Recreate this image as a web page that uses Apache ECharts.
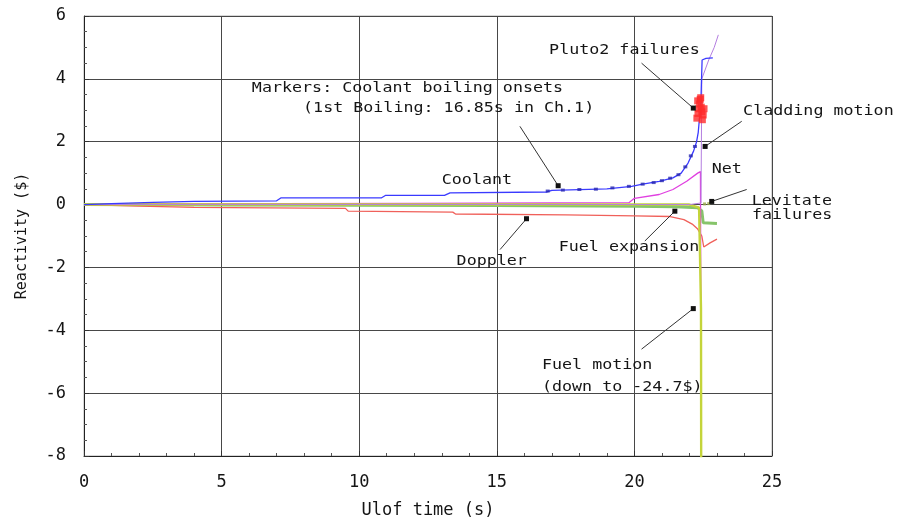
<!DOCTYPE html>
<html>
<head>
<meta charset="utf-8">
<style>
  html, body { margin: 0; padding: 0; background: #ffffff; }
  #chart { width: 903px; height: 524px; }
</style>
<script src="https://cdn.jsdelivr.net/npm/echarts@6/dist/echarts.min.js"></script>
</head>
<body>
<div id="chart"></div>
<script>
// ---- reactivity components vs. ULOF transient time (s), values in $ ----
const coolantTime  = [0, 1, 2.5, 4, 7.0, 7.15, 10.8, 10.95, 13.1, 13.3, 16.8, 17.0, 19.0, 19.9, 20.3, 20.9, 21.4, 21.7, 21.95, 22.15, 22.26, 22.32, 22.36, 22.4, 22.42, 22.46, 22.6, 22.85];
const coolantValue = [0, 0.03, 0.07, 0.1, 0.12, 0.21, 0.21, 0.29, 0.29, 0.37, 0.40, 0.45, 0.50, 0.58, 0.65, 0.74, 0.85, 1.0, 1.32, 1.7, 2.0, 2.3, 2.7, 3.0, 3.4, 4.6, 4.65, 4.67];

const dopplerTime  = [0, 2, 4, 9.5, 9.6, 13.4, 13.5, 17.5, 20.0, 21.3, 21.8, 22.1, 22.3, 22.45, 22.52, 22.75, 23.0];
const dopplerValue = [0, -0.05, -0.09, -0.12, -0.21, -0.24, -0.30, -0.33, -0.36, -0.38, -0.48, -0.62, -0.78, -1.0, -1.35, -1.22, -1.1];

const fuelExpTime  = [0, 5, 10, 15, 20, 21.5, 22.3, 22.45, 22.5, 23.0];
const fuelExpValue = [0, -0.01, -0.02, -0.03, -0.05, -0.07, -0.1, -0.2, -0.58, -0.6];

const netTime  = [0, 3, 7, 12, 17, 19.8, 20.0, 20.9, 21.4, 21.9, 22.3, 22.4, 22.47, 22.5];
const netValue = [0, 0.02, 0.03, 0.04, 0.05, 0.06, 0.2, 0.32, 0.48, 0.74, 1.0, 1.05, -22.0, -20.0];

const claddingTime  = [0, 22.0, 22.42, 22.45, 22.7, 22.9, 23.05];
const claddingValue = [0, 0, 0.05, 4.0, 4.6, 5.0, 5.4];

const fuelMotionTime  = [0, 22.0, 22.35, 22.42, 22.45];
const fuelMotionValue = [0, 0, -0.1, -3.3, -24.7];

// coolant boiling onset markers (placed on the coolant curve)
const boilingTime  = [16.85, 17.4, 18.0, 18.6, 19.2, 19.8, 20.3, 20.7, 21.0, 21.3, 21.6, 21.85, 22.05, 22.2];
const boilingValue = [0.43, 0.46, 0.48, 0.49, 0.53, 0.58, 0.65, 0.70, 0.76, 0.84, 0.95, 1.2, 1.55, 1.85];

// Pluto2 failure events
const pluto2Time  = [22.27, 22.31, 22.34, 22.37, 22.39, 22.41, 22.43, 22.45, 22.5, 22.53, 22.3, 22.47];
const pluto2Value = [2.75, 2.9, 3.05, 3.2, 3.35, 3.4, 3.1, 2.95, 2.85, 3.05, 3.3, 2.7];

// levitate failure events
const levitateTime  = [22.55, 22.7];
const levitateValue = [0.02, 0.03];

// axis ticks
const xTicks = [0, 5, 10, 15, 20, 25];
const yTicks = [-8, -6, -4, -2, 0, 2, 4, 6];

// text labels: [text, time, value]
const notes = [
  ['Pluto2 failures', 16.9, 4.92],
  ['Markers: Coolant boiling onsets', 6.10, 3.71],
  ['(1st Boiling: 16.85s in Ch.1)', 7.96, 3.08],
  ['Coolant', 13.0, 0.79],
  ['Doppler', 13.54, -1.80],
  ['Fuel expansion', 17.25, -1.37],
  ['Net', 22.81, 1.11],
  ['Levitate', 24.26, 0.10],
  ['failures', 24.27, -0.34],
  ['Cladding motion', 23.95, 2.98],
  ['Fuel motion', 16.64, -5.10],
  ['(down to -24.7$)', 16.64, -5.80]
];

// leader lines: [fromTime, fromValue, toTime, toValue]
const leaders = [
  [20.26, 4.50, 22.14, 3.07],
  [15.84, 2.49, 17.23, 0.60],
  [15.12, -1.43, 16.08, -0.45],
  [20.38, -1.16, 21.47, -0.21],
  [24.08, 0.48, 22.81, 0.10],
  [23.90, 2.65, 22.57, 1.85],
  [20.26, -4.60, 22.14, -3.31]
];

const zip = (t, v) => t.map((x, i) => [x, v[i]]);
const textFont = 'DejaVu Sans Mono';
const textColor = '#151515';

function curve(name, t, v, color, width, z) {
  return {
    name, type: 'line', data: zip(t, v), showSymbol: false, symbol: 'none',
    lineStyle: { color, width }, clip: true, z: z, animation: false
  };
}

const series = [
  curve('Fuel expansion', fuelExpTime, fuelExpValue, '#86c46a', 3, 3),
  curve('Doppler', dopplerTime, dopplerValue, '#f0605a', 1.3, 4),
  curve('Net', netTime, netValue, '#e040e0', 1.3, 5),
  curve('Fuel motion', fuelMotionTime, fuelMotionValue, '#c4d43a', 2.4, 6),
  curve('Cladding motion', claddingTime, claddingValue, '#b47ee0', 1, 6),
  curve('Coolant', coolantTime, coolantValue, '#3a3aff', 1.3, 7),
  {
    name: 'Boiling onsets', type: 'scatter', data: zip(boilingTime, boilingValue),
    symbol: 'rect', symbolSize: [4, 3], itemStyle: { color: '#2828b0' }, z: 8, animation: false
  },
  {
    name: 'Pluto2 failures', type: 'scatter', data: zip(pluto2Time, pluto2Value),
    symbol: 'rect', symbolSize: 7, itemStyle: { color: '#ff2a2a' }, z: 9, animation: false
  },
  {
    name: 'Levitate failures', type: 'scatter', data: zip(levitateTime, levitateValue),
    symbol: 'rect', symbolSize: 3, itemStyle: { color: '#9aa84a' }, z: 8, animation: false
  }
];

leaders.forEach((l, i) => {
  series.push({
    name: 'leader' + i, type: 'line', z: 10, animation: false, clip: false,
    lineStyle: { color: '#333', width: 1 },
    showSymbol: true,
    data: [
      { value: [l[0], l[1]], symbol: 'none' },
      { value: [l[2], l[3]], symbol: 'rect', symbolSize: 5, itemStyle: { color: '#111' } }
    ]
  });
});

const chart = echarts.init(document.getElementById('chart'), null, { renderer: 'canvas' });
chart.setOption({
  animation: false,
  backgroundColor: '#ffffff',
  grid: {
    left: 84, right: 131, top: 16, bottom: 67,
    show: true, borderColor: '#b0b0b0', borderWidth: 1, backgroundColor: '#ffffff'
  },
  xAxis: {
    type: 'value', min: xTicks[0], max: xTicks[xTicks.length - 1], interval: 5,
    name: 'Ulof time (s)', nameLocation: 'middle', nameGap: 46,
    nameTextStyle: { fontFamily: textFont, fontSize: 17, color: textColor },
    axisLine: { show: true, onZero: false, lineStyle: { color: '#222', width: 1 } },
    axisTick: { show: true, inside: true, length: 5, lineStyle: { color: '#333' } },
    minorTick: { show: true, splitNumber: 5, length: 3, lineStyle: { color: '#555' } },
    axisLabel: { margin: 18, fontFamily: textFont, fontSize: 17, color: textColor },
    splitLine: { show: true, lineStyle: { color: '#474747', width: 1 } }
  },
  yAxis: {
    type: 'value', min: yTicks[0], max: yTicks[yTicks.length - 1], interval: 2,
    name: 'Reactivity ($)', nameLocation: 'middle', nameGap: 54, nameRotate: 90,
    nameTextStyle: { fontFamily: textFont, fontSize: 15, color: textColor },
    axisLine: { show: true, onZero: false, lineStyle: { color: '#222', width: 1 } },
    axisTick: { show: true, inside: true, length: 5, lineStyle: { color: '#333' } },
    minorTick: { show: true, splitNumber: 4, length: 3, lineStyle: { color: '#555' } },
    axisLabel: { margin: 18, fontFamily: textFont, fontSize: 17, color: textColor },
    splitLine: { show: true, lineStyle: { color: '#474747', width: 1 } }
  },
  series
});

// annotation text, anchored in data coordinates and drawn with a wide face
const noteGraphics = notes.map(n => {
  const p = chart.convertToPixel({ gridIndex: 0 }, [n[1], n[2]]);
  return {
    type: 'text', x: p[0], y: p[1], scaleX: 1.15, scaleY: 1, z: 100, silent: true,
    style: {
      text: n[0], font: '14.5px "' + textFont + '"', fill: textColor,
      textAlign: 'left', textVerticalAlign: 'middle'
    }
  };
});
chart.setOption({ graphic: noteGraphics });
</script>
</body>
</html>
